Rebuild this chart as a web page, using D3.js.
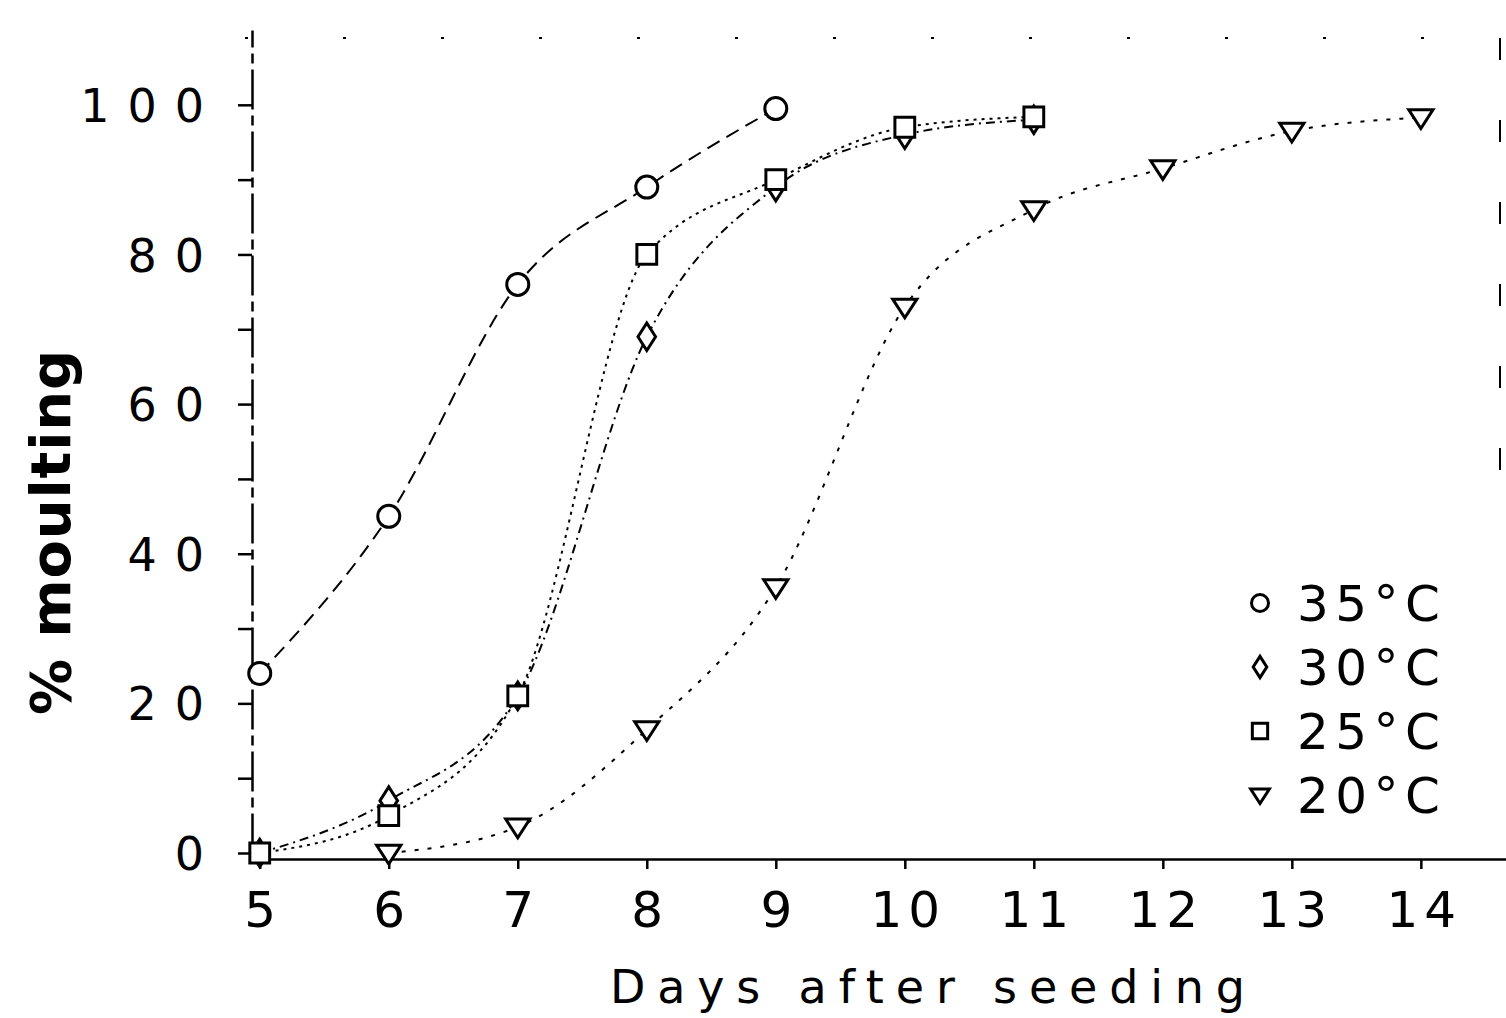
<!DOCTYPE html>
<html>
<head>
<meta charset="utf-8">
<script src="https://cdn.jsdelivr.net/npm/d3@7"></script>
<style>
  body { margin: 0; background: #fff; }
  text { font-family: "DejaVu Sans", sans-serif; fill: #000; }
</style>
</head>
<body>
<div id="chart"></div>
<script>
// Data: days after seeding vs % moulting
var days = [5, 6, 7, 8, 9, 10, 11, 12, 13, 14];
var days35 = [5, 6, 7, 8, 9];
var moult35 = [24, 45, 76, 89, 99.5];
var days30 = [5, 6, 7, 8, 9, 10, 11];
var moult30 = [0, 7, 21, 69, 89, 96, 98];
var days25 = [5, 6, 7, 8, 9, 10, 11];
var moult25 = [0, 5, 21, 80, 90, 97, 98.4];
var days20 = [6, 7, 8, 9, 10, 11, 12, 13, 14];
var moult20 = [0, 3.5, 16.5, 35.5, 73, 86, 91.5, 96.5, 98.3];
var yTicks = [0, 20, 40, 60, 80, 100];
var yMinor = [10, 30, 50, 70, 90];
var legendLabels = ["35°C", "30°C", "25°C", "20°C"];

var width = 1506;
var height = 1018;

var svg = d3.select("#chart")
    .append("svg")
    .attr("width", width)
    .attr("height", height);

// Scales
var xScale = d3.scaleLinear()
    .domain([4.94, 14.66])
    .range([252, 1506]);

var yScale = d3.scaleLinear()
    .domain([0, 110])
    .range([853, 30]);

// Series table built from the arrays above
var series = [
    {name: legendLabels[0], x: days35, y: moult35, symbol: d3.symbolCircle, dash: "14,8"},
    {name: legendLabels[1], x: days30, y: moult30, symbol: "diamond", dash: "9,5,2,5"},
    {name: legendLabels[2], x: days25, y: moult25, symbol: d3.symbolSquare, dash: "3,5"},
    {name: legendLabels[3], x: days20, y: moult20, symbol: "triangle", dash: "4,9"}
];

// faint broken frame (top and right)
svg.append("line")
    .attr("x1", 245).attr("x2", 1500)
    .attr("y1", yScale(110) + 8).attr("y2", yScale(110) + 8)
    .attr("stroke", "#000").attr("stroke-width", 2)
    .attr("stroke-dasharray", "3,95");
svg.append("line")
    .attr("x1", 1500).attr("x2", 1500)
    .attr("y1", yScale(110) + 8).attr("y2", yScale(45))
    .attr("stroke", "#000").attr("stroke-width", 2)
    .attr("stroke-dasharray", "22,60");

// x axis
var xAxis = d3.axisBottom(xScale)
    .tickValues(days)
    .tickSize(10)
    .tickSizeOuter(0)
    .tickPadding(22)
    .tickFormat(d3.format("d"));

var gx = svg.append("g")
    .attr("transform", `translate(0, ${yScale(0) + 6})`)
    .call(xAxis);
gx.select(".domain").attr("stroke-width", 2.5);
gx.selectAll(".tick line").attr("stroke-width", 2.5);
gx.selectAll(".tick text")
    .attr("font-size", 50)
    .attr("letter-spacing", 6)
    .attr("dx", 3)
    .attr("fill", "#000");

// y axis
var yAxis = d3.axisLeft(yScale)
    .tickValues(yTicks.concat(yMinor))
    .tickSize(14)
    .tickSizeOuter(0)
    .tickFormat(function(d) { return yTicks.indexOf(d) >= 0 ? d : ""; });

var gy = svg.append("g")
    .attr("transform", `translate(${xScale(4.94)}, 0)`)
    .call(yAxis);
gy.select(".domain").attr("stroke-width", 2.5).attr("stroke-dasharray", "40,6,10,6");
gy.selectAll(".tick line").attr("stroke-width", 2.5);
gy.selectAll(".tick text")
    .attr("font-size", 46)
    .attr("letter-spacing", 18)
    .attr("x", -30)
    .attr("dy", "0.36em")
    .attr("fill", "#000");

// axis titles
svg.append("text")
    .attr("x", 610)
    .attr("y", 1003)
    .attr("font-size", 46)
    .attr("textLength", 635)
    .attr("lengthAdjust", "spacing")
    .text("Days after seeding");

svg.append("text")
    .attr("transform", "translate(70, 715) rotate(-90)")
    .attr("font-size", 56)
    .attr("font-weight", "bold")
    .attr("textLength", 365)
    .attr("lengthAdjust", "spacing")
    .text("% moulting");

// marker paths
function symbolPath(sym, size) {
    if (sym === "diamond") {
        var s = size;
        return `M0,${-s * 1.25}L${s * 0.8},0L0,${s * 1.25}L${-s * 0.8},0Z`;
    }
    if (sym === "triangle") {
        var t = size;
        return `M${-t * 1.1},${-t * 0.7}L${t * 1.1},${-t * 0.7}L0,${t * 1.0}Z`;
    }
    var area = sym === d3.symbolSquare ? Math.pow(size * 1.8, 2) : Math.PI * size * size;
    return d3.symbol().type(sym).size(area)();
}

// lines
var line = d3.line()
    .x(function(d) { return xScale(d[0]); })
    .y(function(d) { return yScale(d[1]); })
    .curve(d3.curveMonotoneX);

series.forEach(function(s) {
    var pts = s.x.map(function(d, i) { return [d, s.y[i]]; });
    svg.append("path")
        .datum(pts)
        .attr("d", line)
        .attr("fill", "none")
        .attr("stroke", "#000")
        .attr("stroke-width", 2)
        .attr("stroke-dasharray", s.dash);
});

// points
series.forEach(function(s) {
    var pts = s.x.map(function(d, i) { return [d, s.y[i]]; });
    svg.selectAll(null)
        .data(pts)
        .enter()
        .append("path")
        .attr("d", symbolPath(s.symbol, 11))
        .attr("transform", function(d) {
            return `translate(${xScale(d[0])}, ${yScale(d[1])})`;
        })
        .attr("fill", "#fff")
        .attr("stroke", "#000")
        .attr("stroke-width", 3);
});

// legend
var legend = svg.append("g").attr("transform", "translate(1260, 603)");
series.forEach(function(s, i) {
    var row = legend.append("g").attr("transform", `translate(0, ${i * 64})`);
    row.append("path")
        .attr("d", symbolPath(s.symbol, 8.5))
        .attr("fill", "#fff")
        .attr("stroke", "#000")
        .attr("stroke-width", 3);
    row.append("text")
        .attr("x", 37)
        .attr("y", 18)
        .attr("font-size", 50)
        .attr("textLength", 143)
        .attr("lengthAdjust", "spacing")
        .text(s.name);
});
</script>
</body>
</html>
